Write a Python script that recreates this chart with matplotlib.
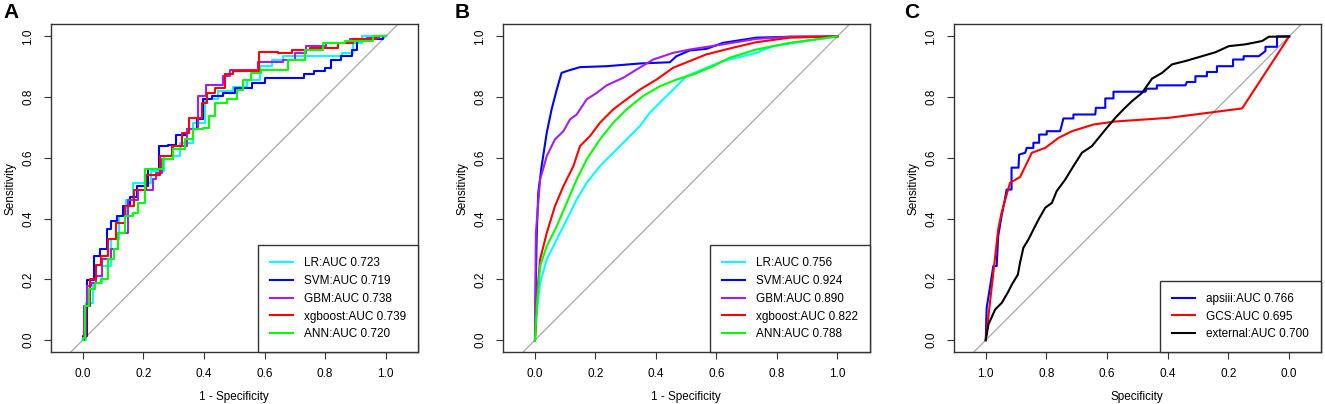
import numpy as np
import matplotlib
matplotlib.use("Agg")
import matplotlib.pyplot as plt

plt.rcParams['font.family'] = ['Liberation Sans', 'DejaVu Sans']

# ---- panel A : training ROC (1 - specificity, sensitivity)
a_lr_x = [0, 0.002, 0.018, 0.051, 0.079, 0.107, 0.134, 0.151, 0.178, 0.211, 0.239, 0.299, 0.343, 0.387, 0.420,
          0.475, 0.519, 0.563, 0.607, 0.640, 0.684, 0.827, 0.882, 0.904, 0.937, 1.0]
a_lr_y = [0, 0.002, 0.123, 0.189, 0.244, 0.332, 0.408, 0.463, 0.518, 0.518, 0.556, 0.606, 0.650, 0.716, 0.793,
          0.820, 0.834, 0.858, 0.902, 0.924, 0.935, 0.935, 0.946, 0.979, 1.0, 1.0]
a_svm_x = [0, 0.002, 0.024, 0.051, 0.063, 0.079, 0.084, 0.101, 0.123, 0.145, 0.167, 0.189, 0.239, 0.266, 0.294,
           0.321, 0.365, 0.387, 0.409, 0.442, 0.486, 0.519, 0.596, 0.607, 0.717, 0.745, 0.783, 0.816, 0.822,
           0.882, 0.893, 0.915, 0.970, 0.981, 1.0]
a_svm_y = [0, 0.013, 0.198, 0.277, 0.299, 0.299, 0.365, 0.393, 0.409, 0.442, 0.470, 0.508, 0.562, 0.639, 0.644,
           0.677, 0.694, 0.727, 0.793, 0.803, 0.814, 0.831, 0.847, 0.862, 0.862, 0.875, 0.886, 0.897, 0.924,
           0.935, 0.957, 0.985, 0.990, 0.993, 1.0]
a_gbm_x = [0, 0.002, 0.008, 0.018, 0.035, 0.051, 0.079, 0.107, 0.129, 0.167, 0.195, 0.228, 0.239, 0.244, 0.277,
           0.321, 0.365, 0.393, 0.420, 0.453, 0.475, 0.497, 0.574, 0.585, 0.640, 0.684, 0.717, 0.756, 0.849,
           0.915, 0.959, 1.0]
a_gbm_y = [0, 0.007, 0.112, 0.178, 0.189, 0.211, 0.266, 0.299, 0.354, 0.463, 0.496, 0.496, 0.530, 0.551, 0.595,
           0.639, 0.694, 0.803, 0.839, 0.839, 0.869, 0.891, 0.891, 0.915, 0.915, 0.924, 0.946, 0.968, 0.979,
           0.990, 0.996, 1.0]
a_xgb_x = [0, 0.008, 0.013, 0.035, 0.051, 0.073, 0.095, 0.123, 0.156, 0.184, 0.233, 0.277, 0.310, 0.343, 0.360,
           0.387, 0.398, 0.420, 0.453, 0.486, 0.508, 0.536, 0.629, 0.662, 0.717, 0.783, 0.838, 0.849, 0.937, 1.0]
a_xgb_y = [0, 0.010, 0.112, 0.200, 0.249, 0.277, 0.332, 0.387, 0.442, 0.496, 0.545, 0.606, 0.639, 0.683, 0.732,
           0.732, 0.782, 0.814, 0.831, 0.875, 0.886, 0.886, 0.948, 0.946, 0.957, 0.963, 0.963, 0.979, 0.990, 1.0]
a_ann_x = [0, 0.002, 0.013, 0.030, 0.051, 0.073, 0.095, 0.112, 0.123, 0.156, 0.178, 0.184, 0.228, 0.255, 0.277,
           0.321, 0.354, 0.376, 0.415, 0.420, 0.453, 0.497, 0.519, 0.541, 0.569, 0.607, 0.662, 0.695, 0.772,
           0.816, 0.915, 1.0]
a_ann_y = [0, 0.007, 0.112, 0.167, 0.189, 0.200, 0.266, 0.299, 0.354, 0.409, 0.420, 0.451, 0.562, 0.562, 0.595,
           0.628, 0.661, 0.694, 0.699, 0.738, 0.782, 0.793, 0.825, 0.858, 0.880, 0.891, 0.891, 0.924, 0.957,
           0.979, 0.985, 1.0]

# ---- panel B : test ROC
b_lr_x = [0, 0.006, 0.017, 0.039, 0.072, 0.105, 0.138, 0.171, 0.215, 0.259, 0.303, 0.347, 0.380, 0.424, 0.457,
          0.501, 0.567, 0.622, 0.732, 0.787, 0.898, 1.0]
b_lr_y = [0, 0.090, 0.189, 0.266, 0.332, 0.397, 0.463, 0.518, 0.573, 0.617, 0.661, 0.705, 0.749, 0.793, 0.825,
          0.869, 0.897, 0.919, 0.946, 0.968, 0.985, 1.0]
b_svm_x = [0, 0.003, 0.006, 0.011, 0.022, 0.039, 0.055, 0.072, 0.088, 0.105, 0.149, 0.237, 0.347, 0.446, 0.468,
           0.512, 0.567, 0.622, 0.732, 0.843, 1.0]
b_svm_y = [0, 0.200, 0.353, 0.485, 0.573, 0.683, 0.760, 0.825, 0.880, 0.886, 0.899, 0.902, 0.911, 0.915, 0.935,
           0.954, 0.959, 0.979, 0.996, 0.999, 1.0]
b_gbm_x = [0, 0.003, 0.017, 0.039, 0.066, 0.094, 0.116, 0.138, 0.171, 0.204, 0.237, 0.292, 0.336, 0.391, 0.457,
           0.512, 0.622, 0.732, 0.843, 1.0]
b_gbm_y = [0, 0.353, 0.529, 0.606, 0.661, 0.688, 0.727, 0.743, 0.793, 0.814, 0.839, 0.864, 0.891, 0.924, 0.946,
           0.957, 0.974, 0.992, 0.999, 1.0]
b_xgb_x = [0, 0.006, 0.017, 0.039, 0.066, 0.094, 0.127, 0.149, 0.182, 0.215, 0.259, 0.303, 0.347, 0.402, 0.457,
           0.512, 0.567, 0.655, 0.732, 0.843, 1.0]
b_xgb_y = [0, 0.134, 0.266, 0.353, 0.441, 0.507, 0.573, 0.639, 0.672, 0.716, 0.760, 0.793, 0.825, 0.858, 0.897,
           0.919, 0.941, 0.963, 0.981, 0.996, 1.0]
b_ann_x = [0, 0.006, 0.017, 0.039, 0.072, 0.105, 0.138, 0.171, 0.215, 0.259, 0.303, 0.358, 0.413, 0.468, 0.523,
           0.589, 0.644, 0.732, 0.843, 1.0]
b_ann_y = [0, 0.112, 0.244, 0.310, 0.375, 0.452, 0.529, 0.595, 0.661, 0.716, 0.760, 0.804, 0.836, 0.858, 0.875,
           0.902, 0.930, 0.957, 0.979, 1.0]

# ---- panel C : scores (specificity, sensitivity)
c_aps_x = [1.0, 0.997, 0.975, 0.964, 0.959, 0.948, 0.937, 0.931, 0.915, 0.915, 0.892, 0.890, 0.870, 0.865, 0.843,
           0.843, 0.824, 0.824, 0.799, 0.799, 0.755, 0.749, 0.744, 0.711, 0.711, 0.639, 0.637, 0.606, 0.606,
           0.579, 0.579, 0.474, 0.469, 0.436, 0.436, 0.342, 0.337, 0.309, 0.309, 0.271, 0.271, 0.238, 0.238,
           0.185, 0.185, 0.150, 0.150, 0.100, 0.078, 0.078, 0.040, 0.040, 0.0]
c_aps_y = [0, 0.106, 0.244, 0.244, 0.342, 0.408, 0.463, 0.496, 0.496, 0.568, 0.568, 0.611, 0.617, 0.633, 0.633,
           0.650, 0.650, 0.677, 0.677, 0.688, 0.688, 0.710, 0.730, 0.730, 0.743, 0.743, 0.765, 0.765, 0.796,
           0.796, 0.818, 0.818, 0.828, 0.828, 0.839, 0.839, 0.850, 0.850, 0.869, 0.869, 0.883, 0.883, 0.902,
           0.902, 0.924, 0.924, 0.935, 0.935, 0.952, 0.966, 0.966, 1.0, 1.0]
c_gcs_x = [1.0, 0.959, 0.948, 0.920, 0.887, 0.848, 0.804, 0.760, 0.716, 0.645, 0.573, 0.397, 0.287, 0.155, 0.0]
c_gcs_y = [0, 0.364, 0.419, 0.518, 0.537, 0.617, 0.633, 0.666, 0.688, 0.710, 0.720, 0.732, 0.746, 0.763, 1.0]
c_ext_x = [1.0, 0.991, 0.969, 0.947, 0.925, 0.914, 0.894, 0.887, 0.876, 0.859, 0.843, 0.826, 0.804, 0.782, 0.766,
           0.738, 0.711, 0.683, 0.650, 0.628, 0.601, 0.573, 0.546, 0.518, 0.485, 0.452, 0.419, 0.386, 0.342,
           0.287, 0.243, 0.199, 0.144, 0.089, 0.067, 0.0]
c_ext_y = [0, 0.052, 0.101, 0.123, 0.161, 0.183, 0.216, 0.255, 0.304, 0.332, 0.364, 0.397, 0.436, 0.452, 0.491,
           0.529, 0.573, 0.617, 0.639, 0.666, 0.699, 0.732, 0.760, 0.787, 0.814, 0.861, 0.880, 0.908, 0.919,
           0.935, 0.948, 0.968, 0.974, 0.985, 0.999, 1.0]

model_names = ['LR', 'SVM', 'GBM', 'xgboost', 'ANN']
model_cols = ['#00FFFF', '#0000FF', '#A020F0', '#FF0000', '#00FF00']
auc_a = ['0.723', '0.719', '0.738', '0.739', '0.720']
auc_b = ['0.756', '0.924', '0.890', '0.822', '0.788']
score_names = ['apsiii', 'GCS', 'external']
score_cols = ['#0000FF', '#FF0000', '#000000']
auc_c = ['0.766', '0.695', '0.700']

fs = 8.5
fig = plt.figure(figsize=(13.25, 4.04), dpi=100)
H = 404.0
W = 1325.0


def style_ax(ax, xlabel):
    ax.set_ylim(-0.04, 1.04)
    ax.set_xticks([0, 0.2, 0.4, 0.6, 0.8, 1.0])
    ax.set_yticks([0, 0.2, 0.4, 0.6, 0.8, 1.0])
    ax.xaxis.set_major_formatter(plt.FormatStrFormatter('%.1f'))
    ax.yaxis.set_major_formatter(plt.FormatStrFormatter('%.1f'))
    ax.tick_params(direction='out', length=5, width=0.8, labelsize=fs, colors='#333333', labelcolor='black')
    ax.tick_params(axis='x', pad=6)
    ax.tick_params(axis='y', pad=7)
    for lab in ax.get_yticklabels():
        lab.set_rotation(90)
        lab.set_va('center')
    for s in ax.spines.values():
        s.set_linewidth(1.0)
        s.set_color('#333333')
    ax.set_xlabel(xlabel, fontsize=fs, labelpad=8)
    ax.set_ylabel('Sensitivity', fontsize=fs, labelpad=4)


def add_legend(ax, handles, labels):
    leg = ax.legend(handles, labels, loc='lower right', borderaxespad=0, fontsize=fs,
                    fancybox=False, edgecolor='#333333', framealpha=1, handlelength=2.0,
                    handletextpad=0.9, labelspacing=0.5, borderpad=1.0)
    leg.get_frame().set_linewidth(1.0)


lefts = [50.7, 502.7, 953.7]
axw = 367.0
bot = (H - 352.3) / H
hh = (352.3 - 24.3) / H

# panel A
axA = fig.add_axes([lefts[0] / W, bot, axw / W, hh])
axA.axline((0, 0), (1, 1), color='#A8A8A8', lw=0.9, zorder=1)
lines = []
for xs, ys, c in zip([a_lr_x, a_svm_x, a_gbm_x, a_xgb_x, a_ann_x],
                     [a_lr_y, a_svm_y, a_gbm_y, a_xgb_y, a_ann_y], model_cols):
    l, = axA.plot(xs, ys, color=c, lw=1.5, drawstyle='steps-mid', zorder=2)
    lines.append(l)
axA.set_xlim(-0.1056, 1.1056)
style_ax(axA, '1 - Specificity')
add_legend(axA, lines, [n + ':AUC ' + v for n, v in zip(model_names, auc_a)])

# panel B
axB = fig.add_axes([lefts[1] / W, bot, axw / W, hh])
axB.axline((0, 0), (1, 1), color='#A8A8A8', lw=0.9, zorder=1)
lines = []
for xs, ys, c in zip([b_lr_x, b_svm_x, b_gbm_x, b_xgb_x, b_ann_x],
                     [b_lr_y, b_svm_y, b_gbm_y, b_xgb_y, b_ann_y], model_cols):
    l, = axB.plot(xs, ys, color=c, lw=1.5, zorder=2)
    lines.append(l)
axB.set_xlim(-0.1067, 1.107)
style_ax(axB, '1 - Specificity')
add_legend(axB, lines, [n + ':AUC ' + v for n, v in zip(model_names, auc_b)])

# panel C
axC = fig.add_axes([lefts[2] / W, bot, axw / W, hh])
axC.axline((1, 0), (0, 1), color='#A8A8A8', lw=0.9, zorder=1)
lines = []
for xs, ys, c in zip([c_aps_x, c_gcs_x, c_ext_x], [c_aps_y, c_gcs_y, c_ext_y], score_cols):
    l, = axC.plot(xs, ys, color=c, lw=1.5, zorder=2)
    lines.append(l)
axC.set_xlim(1.1056, -0.104)
style_ax(axC, 'Specificity')
add_legend(axC, lines, [n + ':AUC ' + v for n, v in zip(score_names, auc_c)])

for lab, px in zip(['A', 'B', 'C'], [3, 455, 904]):
    fig.text(px / W, 1 - 13 / H, lab, fontsize=15, fontweight='bold', ha='left', va='center')

fig.savefig('out.png', dpi=100)
